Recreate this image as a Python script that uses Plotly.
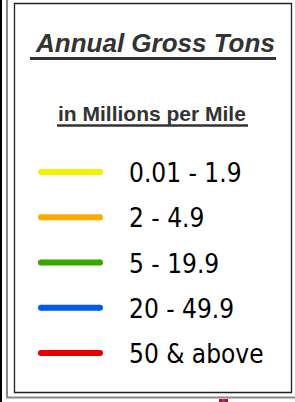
import plotly.graph_objects as go

W, H = 295, 402

title_text = "Annual Gross Tons"
subtitle_text = "in Millions per Mile"
categories = ["0.01 - 1.9", "2 - 4.9", "5 - 19.9", "20 - 49.9", "50 & above"]
colors = ["#F2F200", "#FFAA00", "#38A800", "#005CE6", "#E60000"]


def px(x):
    return x / W


def py(y):
    return 1 - y / H


fig = go.Figure()

for i, (cat, col) in enumerate(zip(categories, colors)):
    fig.add_trace(go.Scatter(
        x=[0, 1], y=[i, i], mode="lines+markers",
        line=dict(color=col, width=6),
        marker=dict(color=col, size=6, line=dict(width=0)),
        cliponaxis=False, showlegend=False, hoverinfo="skip",
    ))

annotations = [
    dict(text="<b><i>" + title_text + "</i></b>", xref="paper", yref="paper",
         x=px(155), y=py(43), xanchor="center", yanchor="middle", showarrow=False,
         font=dict(family="Liberation Sans, Arial", size=26, color="#333333")),
    dict(text="<b>" + subtitle_text + "</b>", xref="paper", yref="paper",
         x=px(152), y=py(113), xanchor="center", yanchor="middle", showarrow=False,
         font=dict(family="Liberation Sans, Arial", size=21, color="#333333")),
]
for i, cat in enumerate(categories):
    annotations.append(dict(
        text=cat, xref="paper", yref="y", x=px(127), y=i,
        xanchor="left", yanchor="middle", showarrow=False, yshift=-1,
        font=dict(family="DejaVu Sans Condensed, DejaVu Sans", size=26, color="#000000"),
    ))

shapes = [
    # black band at the left edge
    dict(type="rect", xref="paper", yref="paper", x0=px(0), x1=px(2), y0=0, y1=1,
         fillcolor="#000000", line=dict(width=0)),
    # gray outer frame (left + bottom)
    dict(type="line", xref="paper", yref="paper", x0=px(7), x1=px(7), y0=py(0), y1=py(398),
         line=dict(color="#888888", width=2)),
    dict(type="line", xref="paper", yref="paper", x0=px(6), x1=px(295), y0=py(397.5), y1=py(397.5),
         line=dict(color="#888888", width=2)),
    # inner box
    dict(type="rect", xref="paper", yref="paper", x0=px(14.5), x1=px(291.5), y0=py(3.5), y1=py(392.5),
         line=dict(color="#222222", width=1.3), fillcolor="rgba(0,0,0,0)"),
    # underlines
    dict(type="line", xref="paper", yref="paper", x0=px(30), x1=px(276), y0=py(58.5), y1=py(58.5),
         line=dict(color="#333333", width=3)),
    dict(type="line", xref="paper", yref="paper", x0=px(57), x1=px(248), y0=py(125.5), y1=py(125.5),
         line=dict(color="#333333", width=2.5)),
    # tiny map remnant below the frame
    dict(type="rect", xref="paper", yref="paper", x0=px(219), x1=px(228), y0=py(402), y1=py(399),
         fillcolor="#E00000", line=dict(width=0)),
    dict(type="rect", xref="paper", yref="paper", x0=px(222), x1=px(225), y0=py(402), y1=py(399),
         fillcolor="#5050C0", line=dict(width=0)),
]

step = (353 - 172) / 4.0
fig.update_layout(
    width=W, height=H, margin=dict(l=0, r=0, t=0, b=0),
    paper_bgcolor="#FFFFFF", plot_bgcolor="rgba(0,0,0,0)",
    xaxis=dict(domain=[px(41), px(100)], range=[0, 1], visible=False, fixedrange=True),
    yaxis=dict(domain=[py(353 + step / 2), py(172 - step / 2)], range=[4.5, -0.5],
               visible=False, fixedrange=True),
    annotations=annotations, shapes=shapes, showlegend=False,
)

fig.write_html("out.html", config={"displayModeBar": False},
               post_script="document.body.style.margin='0';document.body.style.overflow='hidden';")
